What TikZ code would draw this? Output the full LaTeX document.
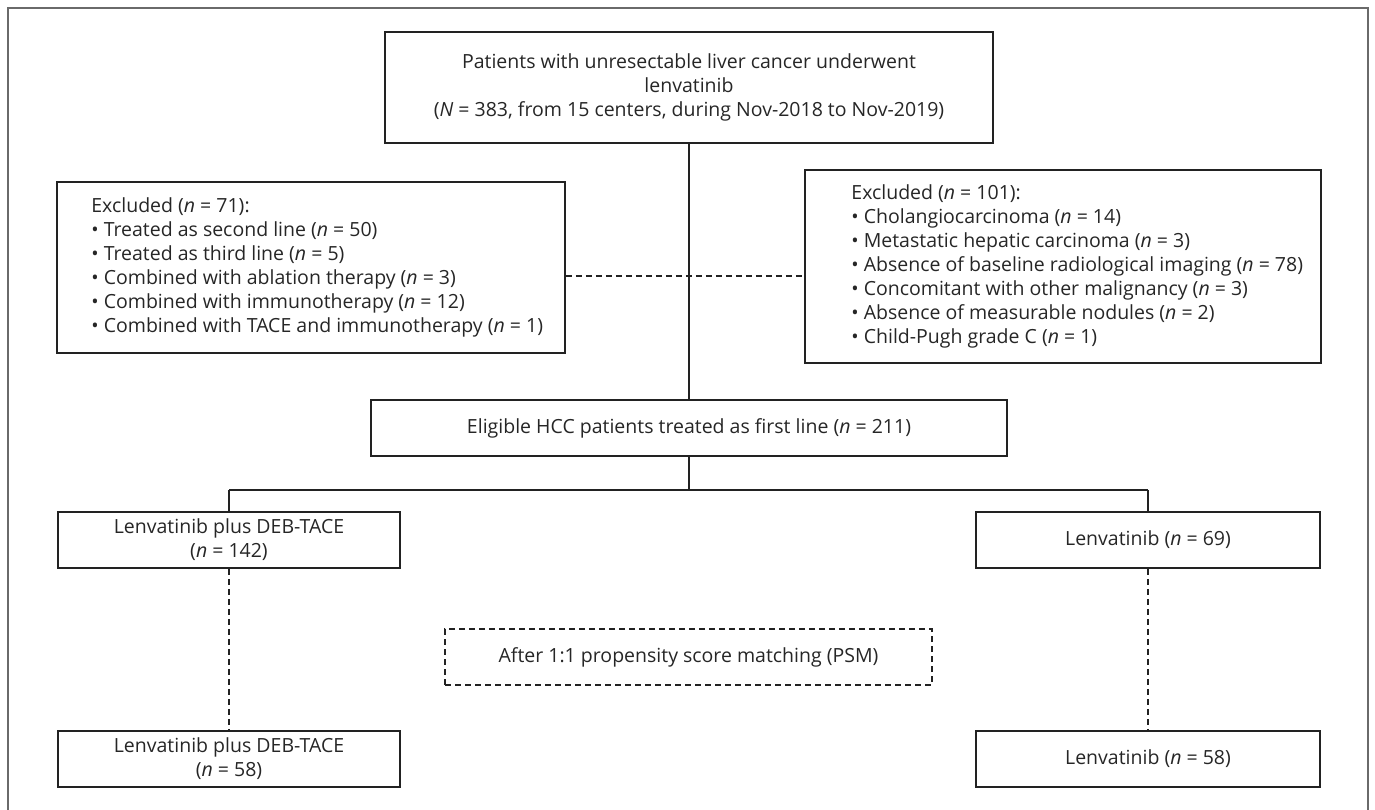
\documentclass[tikz,border=0pt]{standalone}
\usepackage{fontspec}
\setmainfont{Open Sans}
\definecolor{boxc}{HTML}{222222}
\definecolor{framec}{HTML}{6A6A6A}
\definecolor{txt}{HTML}{262626}
\newcommand{\fs}{\fontsize{19.5}{24}\selectfont}
\begin{document}
\begin{tikzpicture}[x=1pt,y=-1pt,
  box/.style={draw=boxc, line width=1.6pt, align=center, inner sep=0pt, font=\fs, text=txt},
  dbox/.style={box, dash pattern=on 6pt off 4pt},
  txtnode/.style={inner sep=0pt, align=left, font=\fs, text=txt, anchor=west},
  con/.style={draw=boxc, line width=1.6pt},
  dcon/.style={con, dash pattern=on 6pt off 4pt}]
\useasboundingbox (0,0) rectangle (1375,809);
\draw[framec, line width=1.8pt] (8,815) -- (8,8) -- (1368,8) -- (1368,815);

\node[box, minimum width=608pt, minimum height=111pt] (top) at (689,87.5)
  {Patients with unresectable liver cancer underwent\\lenvatinib\\(\textit{N} = 383, from 15 centers, during Nov-2018 to Nov-2019)};

\node[box, minimum width=508pt, minimum height=171pt] (exl) at (311,267.5) {};
\node[txtnode] (exltxt) at ([xshift=35pt]exl.west)
  {Excluded (\textit{n} = 71):\\
   • Treated as second line (\textit{n} = 50)\\
   • Treated as third line (\textit{n} = 5)\\
   • Combined with ablation therapy (\textit{n} = 3)\\
   • Combined with immunotherapy (\textit{n} = 12)\\
   • Combined with TACE and immunotherapy (\textit{n} = 1)};

\node[box, minimum width=516pt, minimum height=193pt] (exr) at (1063,266.5) {};
\node[txtnode] (exrtxt) at ([xshift=47pt]exr.west)
  {Excluded (\textit{n} = 101):\\
   • Cholangiocarcinoma (\textit{n} = 14)\\
   • Metastatic hepatic carcinoma (\textit{n} = 3)\\
   • Absence of baseline radiological imaging (\textit{n} = 78)\\
   • Concomitant with other malignancy (\textit{n} = 3)\\
   • Absence of measurable nodules (\textit{n} = 2)\\
   • Child-Pugh grade C (\textit{n} = 1)};

\node[box, minimum width=636pt, minimum height=56pt] (elig) at (689,428)
  {Eligible HCC patients treated as first line (\textit{n} = 211)};

\node[box, minimum width=342pt, minimum height=56pt] (ml) at (229,540)
  {Lenvatinib plus DEB-TACE\\(\textit{n} = 142)};
\node[box, minimum width=344pt, minimum height=56pt] (mr) at (1148,540)
  {Lenvatinib (\textit{n} = 69)};

\node[dbox, minimum width=487pt, minimum height=56pt] (psm) at (688.5,657)
  {After 1:1 propensity score matching (PSM)};

\node[box, minimum width=342pt, minimum height=56pt] (bl) at (229,759)
  {Lenvatinib plus DEB-TACE\\(\textit{n} = 58)};
\node[box, minimum width=344pt, minimum height=56pt] (br) at (1148,759)
  {Lenvatinib (\textit{n} = 58)};

\coordinate (bra) at (689,490);
\coordinate (brl) at (229,490);
\coordinate (brr) at (1148,490);

\path[con] (top.south) -- (elig.north);
\path[dcon] (exl.east |- 0,276) -- (exr.west |- 0,276);
\path[con] (elig.south) -- (bra);
\path[con] (brl) -- (brr);
\path[con] (brl) -- (ml.north);
\path[con] (brr) -- (mr.north);
\path[dcon] (ml.south) -- (bl.north);
\path[dcon] (mr.south) -- (br.north);
\end{tikzpicture}
\end{document}
